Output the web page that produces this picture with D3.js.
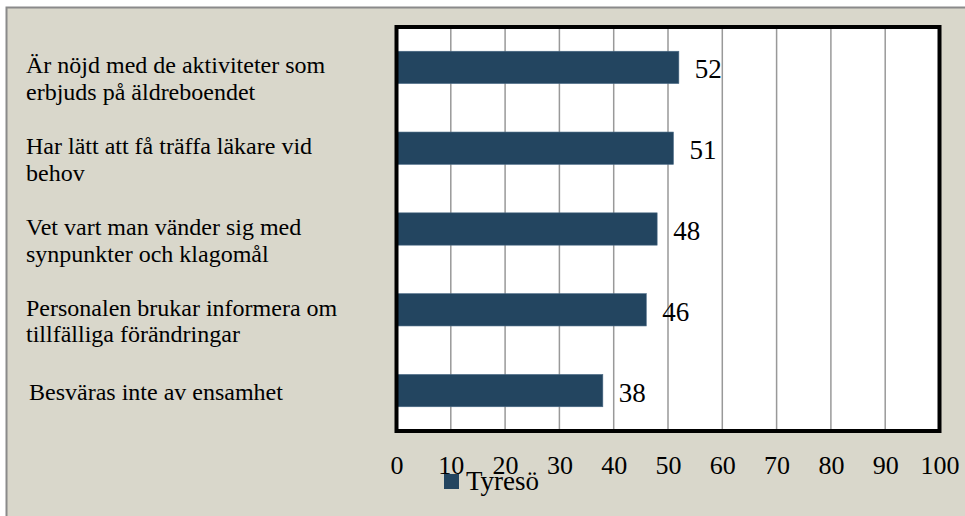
<!DOCTYPE html>
<html>
<head>
<meta charset="utf-8">
<script src="https://cdn.jsdelivr.net/npm/d3@7"></script>
<style>
  body { margin: 0; background: #fff; }
  text { font-family: 'Liberation Serif', 'Times New Roman', serif; fill: #000; }
</style>
</head>
<body>
<div id="viz"></div>
<script>
// data
let categories = [
  'Är nöjd med de aktiviteter som erbjuds på äldreboendet',
  'Har lätt att få träffa läkare vid behov',
  'Vet vart man vänder sig med synpunkter och klagomål',
  'Personalen brukar informera om tillfälliga förändringar',
  'Besväras inte av ensamhet'
];
let labelLines = [
  ['Är nöjd med de aktiviteter som', 'erbjuds på äldreboendet'],
  ['Har lätt att få träffa läkare vid', 'behov'],
  ['Vet vart man vänder sig med', 'synpunkter och klagomål'],
  ['Personalen brukar informera om', 'tillfälliga förändringar'],
  ['Besväras inte av ensamhet']
];
let values = [52, 51, 48, 46, 38];
let xTicks = [0, 10, 20, 30, 40, 50, 60, 70, 80, 90, 100];
let seriesName = 'Tyresö';

let W = 965, H = 516,
    plot = { left: 396.5, right: 939.5, top: 27, bottom: 431 },
    barColor = '#234560';

let svg = d3.select('#viz').append('svg')
  .attr('width', W)
  .attr('height', H);

// panel
svg.append('rect')
  .attr('x', 6.5).attr('y', 7.5)
  .attr('width', W).attr('height', H)
  .attr('fill', '#d9d7cb')
  .attr('stroke', '#8a8a8a')
  .attr('stroke-width', 2);

let xScale = d3.scaleLinear()
  .domain([0, 100])
  .range([plot.left, plot.right]);

let yScale = d3.scaleBand()
  .domain(categories)
  .range([plot.top, plot.bottom])
  .paddingInner(0.6)
  .paddingOuter(0.3);

// plot background
svg.append('rect')
  .attr('x', plot.left).attr('y', plot.top)
  .attr('width', plot.right - plot.left)
  .attr('height', plot.bottom - plot.top)
  .attr('fill', '#fff');

// gridlines
svg.append('g')
  .selectAll('line')
  .data(xTicks.slice(1, -1))
  .enter().append('line')
  .attr('x1', d => xScale(d)).attr('x2', d => xScale(d))
  .attr('y1', plot.top).attr('y2', plot.bottom)
  .attr('stroke', '#999')
  .attr('stroke-width', 1.5);

// bars
svg.append('g')
  .selectAll('rect')
  .data(values)
  .enter().append('rect')
  .attr('x', xScale(0))
  .attr('y', (d, i) => yScale(categories[i]))
  .attr('width', d => xScale(d) - xScale(0))
  .attr('height', yScale.bandwidth())
  .attr('fill', barColor)
  .attr('stroke', '#4a6a85')
  .attr('stroke-width', 0.6);

// frame
svg.append('rect')
  .attr('x', plot.left).attr('y', plot.top)
  .attr('width', plot.right - plot.left)
  .attr('height', plot.bottom - plot.top)
  .attr('fill', 'none')
  .attr('stroke', '#000')
  .attr('stroke-width', 4);

// value labels
svg.append('g')
  .selectAll('text')
  .data(values)
  .enter().append('text')
  .attr('x', d => xScale(d) + 16)
  .attr('y', (d, i) => yScale(categories[i]) + yScale.bandwidth() / 2 + 11)
  .style('font-size', '27px')
  .text(d => d);

// category labels
let cat = svg.append('g')
  .selectAll('text')
  .data(labelLines)
  .enter().append('text')
  .attr('x', (d, i) => i === 4 ? 29 : 26)
  .attr('y', (d, i) => yScale(categories[i]) + yScale.bandwidth() / 2 + (d.length > 1 ? 6 : 9))
  .style('font-size', '24px');
cat.selectAll('tspan')
  .data(d => d)
  .enter().append('tspan')
  .attr('x', function() { return this.parentNode.getAttribute('x'); })
  .attr('dy', (d, j) => j === 0 ? 0 : 26.5)
  .text(d => d);

// x axis
let xAxis = d3.axisBottom(xScale)
  .tickValues(xTicks)
  .tickSize(0)
  .tickPadding(24.5);

let xGuide = svg.append('g')
  .attr('transform', 'translate(0,' + plot.bottom + ')')
  .call(xAxis);
xGuide.select('.domain').remove();
xGuide.selectAll('text')
  .style('font-size', '26px')
  .style('font-family', "'Liberation Serif', 'Times New Roman', serif")
  .attr('fill', '#000');

// legend (overlaps the axis labels, as in the original)
let legend = svg.append('g');
legend.append('rect')
  .attr('x', 444).attr('y', 474)
  .attr('width', 15).attr('height', 15)
  .attr('fill', barColor);
legend.append('text')
  .attr('x', 466).attr('y', 490)
  .style('font-size', '27px')
  .text(seriesName);
</script>
</body>
</html>
